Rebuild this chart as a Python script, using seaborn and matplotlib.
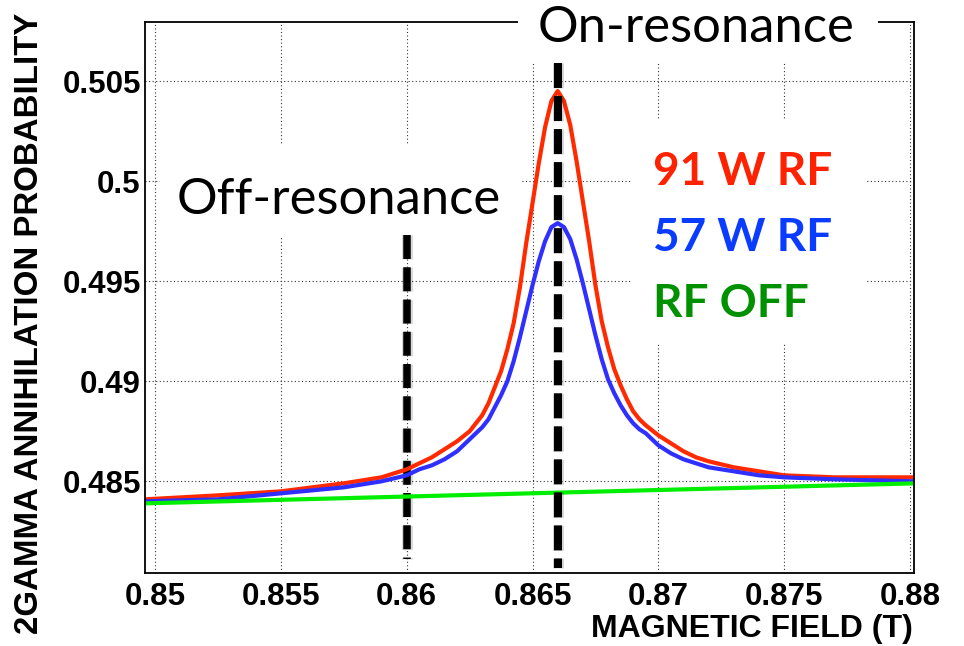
import matplotlib
matplotlib.use("Agg")
import matplotlib.pyplot as plt
import matplotlib.patheffects as pe
from matplotlib.ticker import FixedLocator, MultipleLocator
from matplotlib.patches import Rectangle
import pandas as pd
import seaborn as sns

# ---------------- data ----------------
field = [0.8496, 0.8525, 0.855, 0.8575, 0.859, 0.860, 0.8605, 0.861, 0.8615,
         0.862, 0.8625, 0.86275, 0.863, 0.86325, 0.8635, 0.86375, 0.864, 0.86425,
         0.8645, 0.86475, 0.865, 0.86525, 0.8655, 0.86575, 0.866, 0.86625,
         0.8665, 0.86675, 0.867, 0.86725, 0.8675, 0.86775, 0.868, 0.86825,
         0.8685, 0.86875, 0.869, 0.86925, 0.8695, 0.870, 0.8705, 0.871, 0.8715,
         0.872, 0.873, 0.874, 0.875, 0.877, 0.8802]
p_91w = [0.4841, 0.4843, 0.4845, 0.4849, 0.4852, 0.4856, 0.4859, 0.4862, 0.4866,
         0.4870, 0.4875, 0.4879, 0.4883, 0.4889, 0.4897, 0.4905, 0.4916, 0.4929,
         0.4947, 0.4969, 0.4989, 0.5009, 0.5027, 0.5040, 0.5045, 0.5040,
         0.5028, 0.5010, 0.4990, 0.4970, 0.4948, 0.4930, 0.4917, 0.4906,
         0.4898, 0.4891, 0.4885, 0.4881, 0.4878, 0.4873, 0.4869, 0.4865, 0.4862,
         0.4860, 0.4857, 0.4855, 0.4853, 0.4852, 0.4852]
p_57w = [0.4840, 0.4841, 0.4844, 0.4847, 0.4850, 0.4853, 0.4856, 0.4858, 0.4861,
         0.4865, 0.4871, 0.4874, 0.4877, 0.4881, 0.4887, 0.4893, 0.4900, 0.4910,
         0.4922, 0.4935, 0.4948, 0.4960, 0.4970, 0.4977, 0.4979, 0.4977,
         0.4971, 0.4961, 0.4949, 0.4936, 0.4923, 0.4911, 0.4901, 0.4894,
         0.4888, 0.4883, 0.4879, 0.4876, 0.4874, 0.4868, 0.4864, 0.4861, 0.4859,
         0.4857, 0.4855, 0.4853, 0.4852, 0.4851, 0.4850]
off_field = [0.8496, 0.8802]
p_rf_off = [0.4839, 0.4849]

series_labels = ["91 W RF", "57 W RF", "RF OFF"]
line_colors = ["#ff2a00", "#2f2fff", "#00ee00"]
text_colors = ["#ff2200", "#0a3cff", "#009000"]

x_ticks = [0.85, 0.855, 0.86, 0.865, 0.87, 0.875, 0.88]
x_tick_labels = ["0.85", "0.855", "0.86", "0.865", "0.87", "0.875", "0.88"]
y_ticks = [0.485, 0.49, 0.495, 0.5, 0.505]
y_tick_labels = ["0.485", "0.49", "0.495", "0.5", "0.505"]

off_res_field = 0.8600
on_res_field = 0.8660
marker_labels = ["Off-resonance", "On-resonance"]

x_label = "MAGNETIC FIELD (T)"
y_label = "2GAMMA ANNIHILATION PROBABILITY"

# ---------------- figure ----------------
sns.set_style("white")
plt.rcParams["font.family"] = ["Liberation Sans", "DejaVu Sans"]
plt.rcParams["text.color"] = "black"
plt.rcParams["axes.labelcolor"] = "black"
plt.rcParams["xtick.color"] = "black"
plt.rcParams["ytick.color"] = "black"

W, H = 964, 646
fig = plt.figure(figsize=(W / 100, H / 100), dpi=100)
L, R, T, B = 145, 914, 22, 573
ax = fig.add_axes([L / W, (H - B) / H, (R - L) / W, (B - T) / H])


def axx(px):
    return (px - L) / (R - L)


def axy(py):
    return (B - py) / (B - T)


ax.set_xlim(0.8496, 0.88016)
ax.set_ylim(0.48042, 0.50795)

# grid
ax.grid(True, which="major", color="#333333", linewidth=0.8,
        linestyle=(0, (1, 2.2)))
ax.set_axisbelow(True)

# white label boxes (hide the grid like the original)
boxes = [(160, 145, 521, 236), (631, 120, 867, 343)]
for (x0, y0, x1, y1) in boxes:
    ax.add_patch(Rectangle((axx(x0), axy(y1)), axx(x1) - axx(x0), axy(y0) - axy(y1),
                           transform=ax.transAxes, facecolor="white",
                           edgecolor="none", zorder=1.5))
# top box covering the frame behind "On-resonance"
ax.add_patch(Rectangle((axx(518), axy(63)), axx(878) - axx(518), axy(0) - axy(63),
                       transform=ax.transAxes, facecolor="white", edgecolor="none",
                       zorder=3, clip_on=False))

glow = [pe.Stroke(linewidth=8, foreground="#000000", alpha=0.15), pe.Normal()]

# off-resonance marker (below curves)
ax.plot([off_res_field, off_res_field], [0.4973, 0.48114], color="black",
        linewidth=5.4, dashes=(3.2, 1.1), solid_capstyle="butt",
        dash_capstyle="butt", zorder=1.8, path_effects=glow)

# curves
df = pd.DataFrame({
    "field": field * 2,
    "prob": p_91w + p_57w,
    "series": [series_labels[0]] * len(field) + [series_labels[1]] * len(field),
})
sns.lineplot(data=df, x="field", y="prob", hue="series",
             palette={series_labels[0]: line_colors[0], series_labels[1]: line_colors[1]},
             linewidth=3.0, legend=False, sort=False, estimator=None, ax=ax, zorder=2)
sns.lineplot(x=off_field, y=p_rf_off, color=line_colors[2], linewidth=3.0,
             legend=False, estimator=None, ax=ax, zorder=2)

# on-resonance marker (above curves)
ax.plot([on_res_field, on_res_field], [0.50589, 0.48067], color="black",
        linewidth=5.8, dashes=(3.1, 1.0), solid_capstyle="butt",
        dash_capstyle="butt", zorder=2.6, path_effects=glow)

# ticks
ax.xaxis.set_major_locator(FixedLocator(x_ticks))
ax.set_xticklabels(x_tick_labels)
ax.yaxis.set_major_locator(FixedLocator(y_ticks))
ax.set_yticklabels(y_tick_labels)
ax.xaxis.set_minor_locator(MultipleLocator(0.001))
ax.yaxis.set_minor_locator(MultipleLocator(0.001))
ax.tick_params(which="both", direction="in", top=False, right=False,
               color="black", width=1.0, labelcolor="black")
ax.tick_params(which="major", length=9.4)
ax.tick_params(which="minor", length=5)
ax.tick_params(axis="x", which="major", pad=6.3)
ax.tick_params(axis="y", which="major", pad=3)
for lab in ax.get_xticklabels() + ax.get_yticklabels():
    lab.set_fontweight("bold")
    lab.set_fontsize(22.5)

for sp in ax.spines.values():
    sp.set_color("black")
    sp.set_linewidth(1.3)
    sp.set_zorder(2.5)

# axis titles
ax.set_xlabel(x_label, fontsize=23, fontweight="bold", loc="right", color="black")
ax.xaxis.set_label_coords(axx(913), axy(614))
ax.set_ylabel(y_label, fontsize=23.8, fontweight="bold", loc="top", color="black")
ax.yaxis.set_label_coords(axx(45), axy(13))

# annotations
big = dict(family=["Lato", "DejaVu Sans"], fontsize=36.5, color="black")
ax.text(axx(339), axy(214), marker_labels[0], ha="center", va="baseline",
        transform=ax.transAxes, zorder=4, **big)
ax.text(axx(696), axy(42), marker_labels[1], ha="center", va="baseline",
        transform=ax.transAxes, zorder=4, clip_on=False, **big)

baselines = [185, 251, 317]
for lab, col, by in zip(series_labels, text_colors, baselines):
    ax.text(axx(653), axy(by), lab, ha="left", va="baseline", color=col,
            family=["Lato", "DejaVu Sans"], fontweight="bold", fontsize=33,
            transform=ax.transAxes, zorder=4)

fig.savefig("out.png", dpi=100, facecolor="white")
